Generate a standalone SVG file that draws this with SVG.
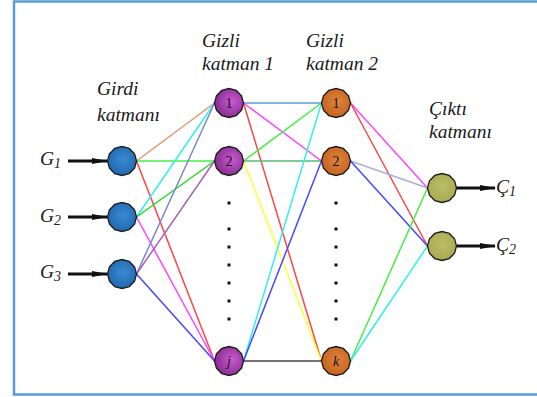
<svg xmlns="http://www.w3.org/2000/svg" width="537" height="397" viewBox="0 0 537 397">
  <style>
    .lbl { font-family: "Liberation Serif", "Times New Roman", serif; font-style: italic; font-size: 19.5px; fill: #1a1a1a; }
    .sub { font-size: 14px; }
    .num { font-family: "Liberation Serif", "Times New Roman", serif; font-size: 14px; fill: #111; text-anchor: middle; }
    .it { font-style: italic; }
    .node { stroke: #1c1c1c; stroke-width: 1.3; }
    .in { fill: url(#gBlue); }
    .h1 { fill: url(#gPurple); }
    .h2 { fill: url(#gOrange); }
    .out { fill: url(#gOlive); }
    .edges line { stroke-width: 1.5; fill: none; }
    .edges .arrow { stroke: #111; stroke-width: 3.2; marker-end: url(#head); }
    .dot { fill: #111; }
  </style>
  <defs>
    <polygon id="shape" points="14.5,0 12.56,7.25 7.25,12.56 0,14.5 -7.25,12.56 -12.56,7.25 -14.5,0 -12.56,-7.25 -7.25,-12.56 0,-14.5 7.25,-12.56 12.56,-7.25"/>
    <radialGradient id="gBlue" cx="0.55" cy="0.45" r="0.6">
      <stop offset="0" stop-color="#3a8ad2"/>
      <stop offset="1" stop-color="#1f66ae"/>
    </radialGradient>
    <radialGradient id="gPurple" cx="0.6" cy="0.45" r="0.6">
      <stop offset="0" stop-color="#c95ad0"/>
      <stop offset="1" stop-color="#862b8e"/>
    </radialGradient>
    <radialGradient id="gOrange" cx="0.55" cy="0.45" r="0.6">
      <stop offset="0" stop-color="#e0813e"/>
      <stop offset="1" stop-color="#c4621f"/>
    </radialGradient>
    <radialGradient id="gOlive" cx="0.5" cy="0.45" r="0.6">
      <stop offset="0" stop-color="#bcbd68"/>
      <stop offset="1" stop-color="#a8a850"/>
    </radialGradient>
    <marker id="head" viewBox="0 0 16 8" refX="15" refY="4" markerWidth="16" markerHeight="8" orient="auto" markerUnits="userSpaceOnUse">
      <path d="M0,1 L16,4 L0,7 Z" fill="#111"/>
    </marker>
  </defs>

  <!-- frame -->
  <rect x="14" y="1.5" width="540" height="393" fill="#fff" stroke="#5b9bd5" stroke-width="2.5"/>

  <!-- connectors -->
  <g id="edges" class="edges">
    <!-- input -> hidden 1 -->
    <line x1="136.5" y1="161" x2="214.5" y2="103" stroke="#e0986c"/>
    <line x1="136.5" y1="161" x2="214.5" y2="161" stroke="#44ee44"/>
    <line x1="136.5" y1="161" x2="214.5" y2="361" stroke="#ff4444"/>
    <line x1="136.5" y1="217" x2="214.5" y2="103" stroke="#33eeee"/>
    <line x1="136.5" y1="217" x2="214.5" y2="161" stroke="#22dd22"/>
    <line x1="136.5" y1="217" x2="214.5" y2="361" stroke="#ff44ff"/>
    <line x1="136.5" y1="274" x2="214.5" y2="103" stroke="#7a88cc"/>
    <line x1="136.5" y1="274" x2="214.5" y2="161" stroke="#a462bc"/>
    <line x1="136.5" y1="274" x2="214.5" y2="361" stroke="#4646ff"/>
    <!-- hidden 1 -> hidden 2 -->
    <line x1="243.5" y1="103" x2="321.5" y2="103" stroke="#5b9bd5"/>
    <line x1="243.5" y1="103" x2="321.5" y2="161" stroke="#ff44ff"/>
    <line x1="243.5" y1="103" x2="321.5" y2="361" stroke="#ff4444"/>
    <line x1="243.5" y1="161" x2="321.5" y2="103" stroke="#44ee44"/>
    <line x1="243.5" y1="161" x2="321.5" y2="161" stroke="#55bb77"/>
    <line x1="243.5" y1="161" x2="321.5" y2="361" stroke="#ffff33"/>
    <line x1="243.5" y1="361" x2="321.5" y2="103" stroke="#33eeee"/>
    <line x1="243.5" y1="361" x2="321.5" y2="161" stroke="#4646ff"/>
    <line x1="243.5" y1="361" x2="321.5" y2="361" stroke="#444"/>
    <!-- hidden 2 -> output -->
    <line x1="350.5" y1="103" x2="427.5" y2="188" stroke="#ff44ff"/>
    <line x1="350.5" y1="103" x2="427.5" y2="246" stroke="#ff4444"/>
    <line x1="350.5" y1="161" x2="427.5" y2="188" stroke="#aab0dd"/>
    <line x1="350.5" y1="161" x2="427.5" y2="246" stroke="#4646ff"/>
    <line x1="350.5" y1="361" x2="427.5" y2="188" stroke="#44ee44"/>
    <line x1="350.5" y1="361" x2="427.5" y2="246" stroke="#33eeee"/>
    <!-- input / output arrows -->
    <line class="arrow" x1="68" y1="161" x2="107" y2="161"/>
    <line class="arrow" x1="68" y1="217" x2="107" y2="217"/>
    <line class="arrow" x1="68" y1="274" x2="107" y2="274"/>
    <line class="arrow" x1="457" y1="188" x2="495" y2="188"/>
    <line class="arrow" x1="457" y1="246" x2="495" y2="246"/>
  </g>

  <!-- layer titles -->
  <text class="lbl" x="97" y="95">Girdi</text>
  <text class="lbl" x="97" y="120.5">katmanı</text>
  <text class="lbl" x="202" y="47">Gizli</text>
  <text class="lbl" x="202" y="70">katman 1</text>
  <text class="lbl" x="306" y="47">Gizli</text>
  <text class="lbl" x="306" y="70">katman 2</text>
  <text class="lbl" x="429" y="115">Çıktı</text>
  <text class="lbl" x="429" y="138">katmanı</text>

  <!-- input / output labels -->
  <text class="lbl" x="40" y="165">G<tspan class="sub" dy="3">1</tspan></text>
  <text class="lbl" x="40" y="222">G<tspan class="sub" dy="3">2</tspan></text>
  <text class="lbl" x="40" y="278">G<tspan class="sub" dy="3">3</tspan></text>
  <text class="lbl" x="496" y="193">Ç<tspan class="sub" dy="3">1</tspan></text>
  <text class="lbl" x="496" y="251">Ç<tspan class="sub" dy="3">2</tspan></text>

  <!-- ellipsis dots -->
  <g id="dots">
    <rect class="dot" x="227.5" y="201.5" width="3" height="3"/>
    <rect class="dot" x="227.5" y="227.5" width="3" height="3"/>
    <rect class="dot" x="227.5" y="245.5" width="3" height="3"/>
    <rect class="dot" x="227.5" y="263.5" width="3" height="3"/>
    <rect class="dot" x="227.5" y="281.5" width="3" height="3"/>
    <rect class="dot" x="227.5" y="299.5" width="3" height="3"/>
    <rect class="dot" x="227.5" y="317.5" width="3" height="3"/>
    <rect class="dot" x="334.5" y="201.5" width="3" height="3"/>
    <rect class="dot" x="334.5" y="227.5" width="3" height="3"/>
    <rect class="dot" x="334.5" y="245.5" width="3" height="3"/>
    <rect class="dot" x="334.5" y="263.5" width="3" height="3"/>
    <rect class="dot" x="334.5" y="281.5" width="3" height="3"/>
    <rect class="dot" x="334.5" y="299.5" width="3" height="3"/>
    <rect class="dot" x="334.5" y="317.5" width="3" height="3"/>
  </g>

  <!-- input layer -->
  <g id="in1"><use href="#shape" x="122" y="161" class="node in"/></g>
  <g id="in2"><use href="#shape" x="122" y="217" class="node in"/></g>
  <g id="in3"><use href="#shape" x="122" y="274" class="node in"/></g>

  <!-- hidden layer 1 -->
  <g id="h1-1"><use href="#shape" x="229" y="103" class="node h1"/><text class="num" x="229" y="108">1</text></g>
  <g id="h1-2"><use href="#shape" x="229" y="161" class="node h1"/><text class="num" x="229" y="166">2</text></g>
  <g id="h1-j"><use href="#shape" x="229" y="361" class="node h1"/><text class="num it" x="229" y="366">j</text></g>

  <!-- hidden layer 2 -->
  <g id="h2-1"><use href="#shape" x="336" y="103" class="node h2"/><text class="num" x="336" y="108">1</text></g>
  <g id="h2-2"><use href="#shape" x="336" y="161" class="node h2"/><text class="num" x="336" y="166">2</text></g>
  <g id="h2-k"><use href="#shape" x="336" y="361" class="node h2"/><text class="num it" x="336" y="366">k</text></g>

  <!-- output layer -->
  <g id="out1"><use href="#shape" x="442" y="188" class="node out"/></g>
  <g id="out2"><use href="#shape" x="442" y="246" class="node out"/></g>
</svg>
